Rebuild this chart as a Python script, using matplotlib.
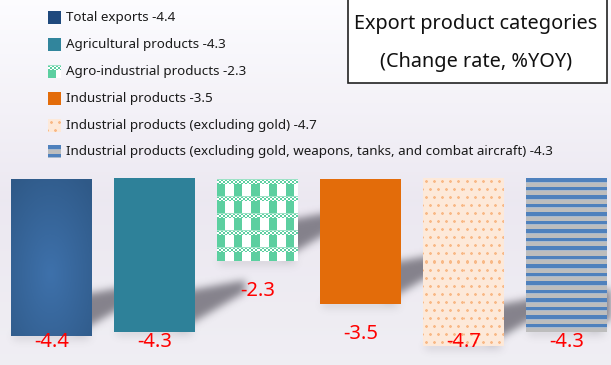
import numpy as np
import matplotlib
matplotlib.use("Agg")
import matplotlib.pyplot as plt
from matplotlib.patches import Rectangle
from matplotlib.path import Path

# ---------------- data ----------------
categories = [
    "Total exports",
    "Agricultural products",
    "Agro-industrial products",
    "Industrial products",
    "Industrial products (excluding gold)",
    "Industrial products (excluding gold, weapons, tanks, and combat aircraft)",
]
values = [-4.4, -4.3, -2.3, -3.5, -4.7, -4.3]
value_labels = ["-4.4", "-4.3", "-2.3", "-3.5", "-4.7", "-4.3"]
title_lines = ["Export product categories", "(Change rate, %YOY)"]

W, H = 611, 365
DPI = 100
FONT = "Noto Sans"
plt.rcParams['font.family'] = [FONT, 'DejaVu Sans']

fig = plt.figure(figsize=(W / DPI, H / DPI), dpi=DPI)
ax = fig.add_axes([0, 0, 1, 1])
x = np.arange(len(values))
ax.set_xlim(-0.5, 5.432)
ax.set_ylim(-5.22, 5.03)
ax.axis('off')

# background gradient
top = np.array([0.99, 0.99, 1.0])
mid = np.array([0.925, 0.91, 0.945])
bot = np.array([0.94, 0.935, 0.955])
bg = np.zeros((H, W, 3))
t = np.linspace(0, 1, H)
for i in range(H):
    if t[i] < 0.55:
        c = top + (mid - top) * (t[i] / 0.55)
    else:
        c = mid + (bot - mid) * ((t[i] - 0.55) / 0.45)
    bg[i, :, :] = c
xl, yl = ax.get_xlim(), ax.get_ylim()
ax.imshow(bg, extent=(xl[0], xl[1], yl[0], yl[1]), aspect='auto', zorder=0, origin='upper')

bars = ax.bar(x, values, width=0.777, zorder=3, color='none', linewidth=0)

fig.canvas.draw()
trans = ax.transData


def pix_box(p):
    x0, y0 = p.get_x(), p.get_y()
    x1, y1 = x0 + p.get_width(), y0 + p.get_height()
    (px0, py0) = trans.transform((x0, y0))
    (px1, py1) = trans.transform((x1, y1))
    return min(px0, px1), max(px0, px1), H - max(py0, py1), H - min(py0, py1)


# ---------- shadows ----------
yy_g, xx_g = np.mgrid[0:H, 0:W]
pts = np.column_stack([xx_g.ravel() + 0.5, yy_g.ravel() + 0.5])
mask = np.zeros((H, W))
for p in bars.patches:
    l, r, tp, b = pix_box(p)
    poly = Path([(r - 15, b - 2), (r - 15, b - 40), (r + 50, b - 52), (r + 50, b - 40), (r - 15, b - 2)])
    mask = np.maximum(mask, poly.contains_points(pts).reshape(H, W).astype(float))
    under = Path([(l + 2, b - 3), (r - 2, b - 3), (r - 2, b + 4), (l + 2, b + 4), (l + 2, b - 3)])
    mask = np.maximum(mask, 0.25 * under.contains_points(pts).reshape(H, W))


def blur(a, s):
    k = np.arange(-3 * s, 3 * s + 1)
    k = np.exp(-k ** 2 / (2 * s * s))
    k /= k.sum()
    a = np.apply_along_axis(lambda m: np.convolve(m, k, mode='same'), 0, a)
    a = np.apply_along_axis(lambda m: np.convolve(m, k, mode='same'), 1, a)
    return a


mask = blur(mask, 4)
sh = np.zeros((H, W, 4))
sh[..., :3] = np.array([0.30, 0.29, 0.33])
sh[..., 3] = np.clip(mask * 0.65, 0, 1)
ax.imshow(sh, extent=(xl[0], xl[1], yl[0], yl[1]), aspect='auto', zorder=1, origin='upper')


# ---------- bar fills ----------
def hexc(h):
    h = h.lstrip('#')
    return np.array([int(h[i:i + 2], 16) for i in (0, 2, 4)]) / 255.0


def fill_radial(w, h):
    yy, xx = np.mgrid[0:h, 0:w]
    cx, cy = w * 0.48, h * 0.6
    d = np.sqrt(((xx - cx) / (w * 0.75)) ** 2 + ((yy - cy) / (h * 0.75)) ** 2)
    d = np.clip(d, 0, 1)[..., None]
    c0, c1 = hexc('#3e71ab'), hexc('#2f5987')
    return c0 + (c1 - c0) * d


def fill_solid(w, h, col):
    a = np.zeros((h, w, 3))
    a[:] = hexc(col)
    return a


def fill_check(w, h):
    green, white = hexc('#5ccfa0'), np.array([1.0, 1.0, 1.0])
    a = np.zeros((h, w, 3))
    for j in range(h):
        for i in range(w):
            ry = j % 17
            if ry < 5:
                c = green if ((i // 2 + ry // 2) % 2 == 0) else white
                if ry == 0:
                    c = green * 0.6 + white * 0.4
            else:
                c = green if (i % 17) < 8 else white
            a[j, i] = c
    return a


def fill_dots(w, h):
    base, halo, dot = hexc('#fde9d9'), hexc('#fcd6b8'), hexc('#f8b987')
    a = np.zeros((h, w, 3))
    a[:] = base
    for j in range(h):
        row = j // 8
        for i in range(w):
            off = 4 if row % 2 else 0
            jj, ii = j % 8, (i + off) % 8
            if jj in (2, 3, 4) and ii in (2, 3, 4):
                a[j, i] = dot if (jj == 3 or ii == 3) else halo
    return a


def fill_stripes(w, h):
    blue, gray, light = hexc('#4f81bd'), hexc('#bdbdbd'), hexc('#a9b9cc')
    a = np.zeros((h, w, 3))
    for j in range(h):
        r = j % 8.5
        if r < 3.4:
            c = blue
        elif r < 4.2:
            c = light
        else:
            c = gray
        a[j, :] = c
    return a


makers = [
    lambda w, h: fill_radial(w, h),
    lambda w, h: fill_solid(w, h, '#2e8199'),
    fill_check,
    lambda w, h: fill_solid(w, h, '#e36c0a'),
    fill_dots,
    fill_stripes,
]

for p, mk in zip(bars.patches, makers):
    l, r, tp, b = pix_box(p)
    w = int(round(r - l))
    h = int(round(b - tp))
    img = mk(w, h)
    x0, y0 = p.get_x(), p.get_y()
    x1, y1 = x0 + p.get_width(), y0 + p.get_height()
    ax.imshow(img, extent=(x0, x1, min(y0, y1), max(y0, y1)), aspect='auto',
              zorder=2, origin='upper', interpolation='nearest')

# value labels
for xi, v, lab in zip(x, values, value_labels):
    ly = max(v - 0.85, -4.58)
    ax.text(xi, ly, lab, color='#ff0000', fontsize=14.5, ha='center', va='center', zorder=5)

# ---------- overlay (legend + title box) ----------
lax = fig.add_axes([0, 0, 1, 1], facecolor='none')
lax.set_xlim(0, W)
lax.set_ylim(H, 0)
lax.axis('off')

leg_imgs = [
    fill_solid(13, 13, '#1f497d'),
    fill_solid(13, 13, '#31859c'),
    fill_check(13, 13),
    fill_solid(13, 13, '#e36c0a'),
    fill_dots(13, 13),
    fill_stripes(13, 13),
]
for k, (cat, lab) in enumerate(zip(categories, value_labels)):
    yc = 18 + 26.8 * k
    lax.imshow(leg_imgs[k], extent=(48, 61, yc + 6.5, yc - 6.5), aspect='auto',
               interpolation='nearest', zorder=5)
    lax.text(66, yc, f"{cat} {lab}", fontsize=9.65, color='#1a1a1a', ha='left', va='center')

lax.add_patch(Rectangle((347.5, -2), 259, 85, facecolor='white', edgecolor='#222222', linewidth=1.2, zorder=4))
lax.text(476, 24, title_lines[0], fontsize=14.3, ha='center', va='center', color='#111111', zorder=6)
lax.text(476, 62, title_lines[1], fontsize=14.3, ha='center', va='center', color='#111111', zorder=6)

fig.savefig("out.png", dpi=DPI)
